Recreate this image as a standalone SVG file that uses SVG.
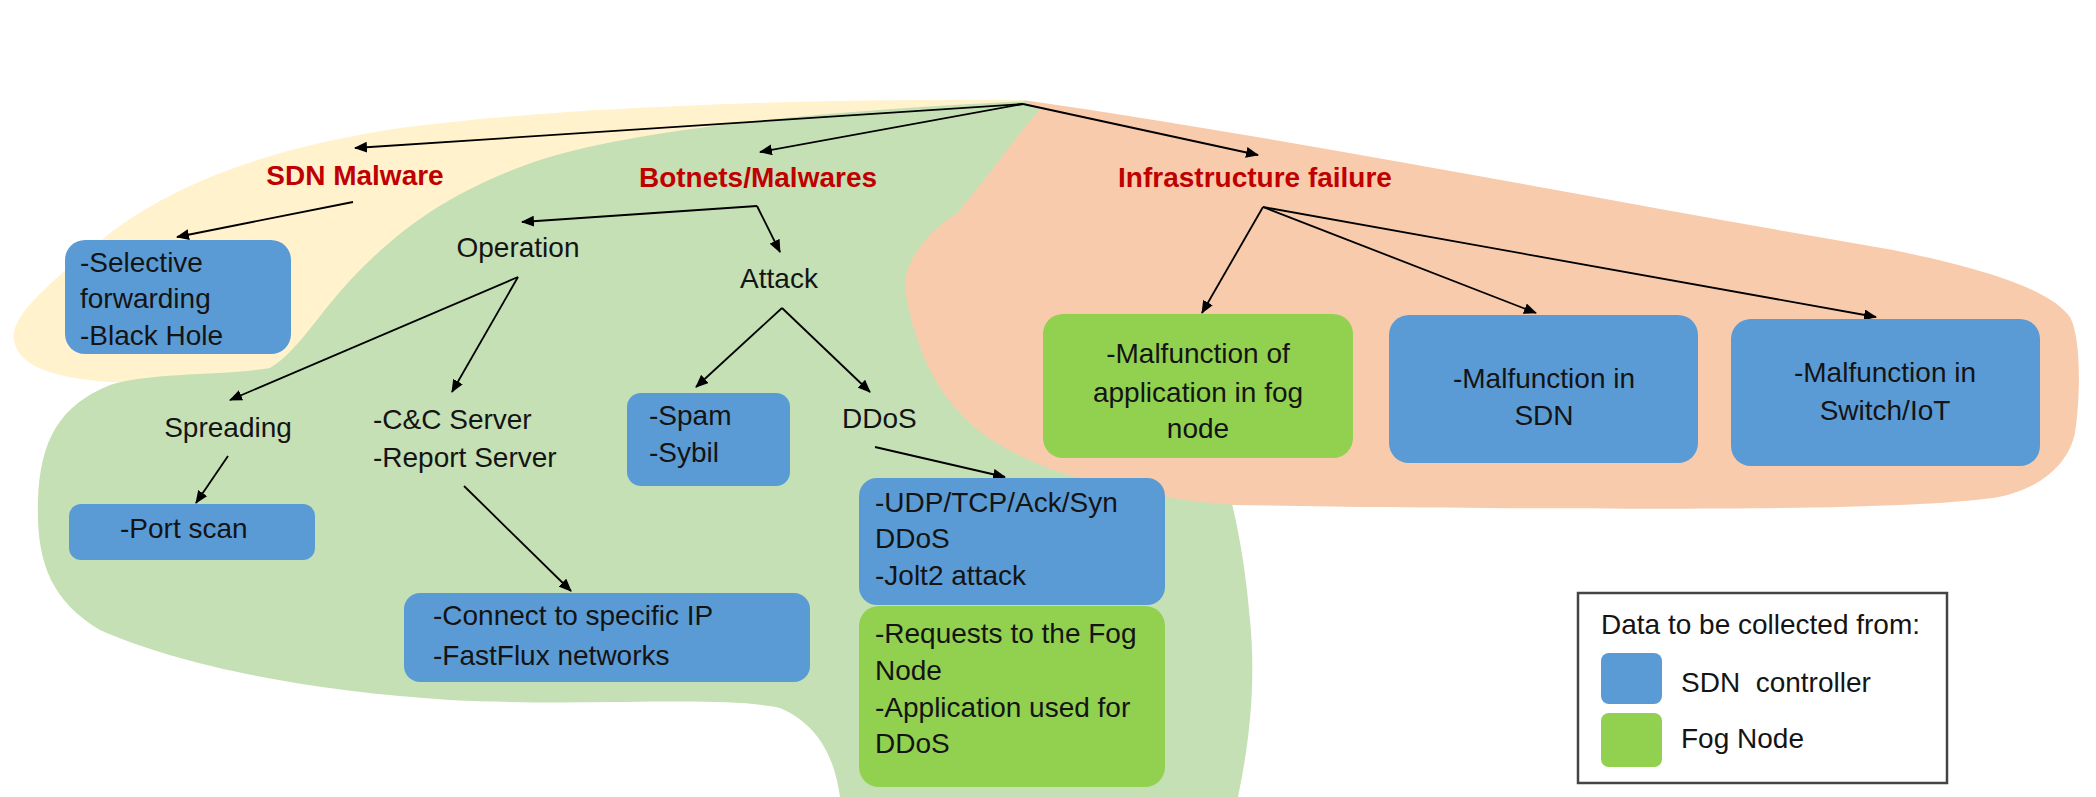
<svg xmlns="http://www.w3.org/2000/svg" width="2096" height="797" viewBox="0 0 2096 797">
<defs>
<style>
.t{font-family:"Liberation Sans",Arial,sans-serif;font-size:28px;fill:#141414;white-space:pre}
.c{text-anchor:middle}
.h{font-family:"Liberation Sans",Arial,sans-serif;font-size:28px;font-weight:bold;fill:#C00000;text-anchor:middle}
.b{fill:#5B9BD5}
.g{fill:#92D050}
.ar{stroke:#000;stroke-width:1.8;fill:none;marker-end:url(#ah)}
</style>
<marker id="ah" markerUnits="userSpaceOnUse" markerWidth="13" markerHeight="11" refX="12" refY="5.5" orient="auto">
<path d="M0,0 L13,5.5 L0,11 Z" fill="#000"/>
</marker>
</defs>
<rect width="2096" height="797" fill="#fff"/>
<g id="regions">
<path id="region-sdn" fill="#FFF2CC" d="M1023,100 C800,98 550,108 400,128 C250,150 150,195 90,250 C40,290 10,320 14,340 C18,365 50,378 110,382 L300,392 L1023,112 Z"/>
<path id="region-botnets" fill="#C5E0B4" d="M1030,101 C850,110 650,125 540,160 C450,190 400,230 360,270 C320,310 300,350 270,368 C220,376 150,372 110,385 C60,405 40,440 38,500 C36,560 50,600 100,630 C180,665 300,690 450,700 C600,707 720,695 780,708 C820,725 835,760 840,797 L1238,797 C1250,740 1256,680 1250,620 C1245,560 1236,520 1230,495 L1100,300 L1040,110 Z"/>
<path id="region-infra" fill="#F8CBAD" d="M1023,100 C1300,140 1600,200 1893,250 C1990,270 2050,290 2070,317 C2082,340 2080,400 2075,433 C2068,465 2040,490 1993,498 C1900,510 1700,510 1360,507 L1233,505 C1140,497 1060,480 1000,445 C940,410 915,350 905,290 C903,260 930,230 957,213 C990,175 1020,130 1040,110 Z"/>
</g>
<g id="connectors">
<line class="ar" x1="1023" y1="104" x2="355" y2="148"/>
<line class="ar" x1="1023" y1="104" x2="760" y2="152"/>
<line class="ar" x1="1023" y1="104" x2="1258" y2="155"/>
<line class="ar" x1="353" y1="202" x2="177" y2="237"/>
<line class="ar" x1="757" y1="206" x2="522" y2="222"/>
<line class="ar" x1="757" y1="206" x2="780" y2="252"/>
<line class="ar" x1="518" y1="277" x2="230" y2="400"/>
<line class="ar" x1="518" y1="277" x2="452" y2="392"/>
<line class="ar" x1="228" y1="456" x2="196" y2="503"/>
<line class="ar" x1="464" y1="486" x2="571" y2="591"/>
<line class="ar" x1="782" y1="308" x2="696" y2="387"/>
<line class="ar" x1="782" y1="308" x2="870" y2="392"/>
<line class="ar" x1="875" y1="447" x2="1005" y2="477"/>
<line class="ar" x1="1263" y1="207" x2="1202" y2="313"/>
<line class="ar" x1="1263" y1="207" x2="1536" y2="313"/>
<line class="ar" x1="1263" y1="207" x2="1876" y2="317"/>
</g>
<g id="sdn-malware"><text class="h" x="355" y="185">SDN Malware</text></g>
<g id="botnets"><text class="h" x="758" y="187">Botnets/Malwares</text></g>
<g id="infra"><text class="h" x="1255" y="187">Infrastructure failure</text></g>
<g id="operation"><text class="t c" x="518" y="257">Operation</text></g>
<g id="attack"><text class="t c" x="779" y="288">Attack</text></g>
<g id="selective">
<rect class="b" x="65" y="240" width="226" height="114" rx="20"/>
<text class="t" x="80" y="272">-Selective</text>
<text class="t" x="80" y="308">forwarding</text>
<text class="t" x="80" y="345">-Black Hole</text>
</g>
<g id="spreading"><text class="t c" x="228" y="437">Spreading</text></g>
<g id="cc-server">
<text class="t" x="373" y="429">-C&amp;C Server</text>
<text class="t" x="373" y="467">-Report Server</text>
</g>
<g id="portscan">
<rect class="b" x="69" y="504" width="246" height="56" rx="12"/>
<text class="t" x="120" y="538">-Port scan</text>
</g>
<g id="spam">
<rect class="b" x="627" y="393" width="163" height="93" rx="14"/>
<text class="t" x="649" y="425">-Spam</text>
<text class="t" x="649" y="462">-Sybil</text>
</g>
<g id="ddos"><text class="t" x="842" y="428">DDoS</text></g>
<g id="connect">
<rect class="b" x="404" y="593" width="406" height="89" rx="16"/>
<text class="t" x="433" y="625">-Connect to specific IP</text>
<text class="t" x="433" y="665">-FastFlux networks</text>
</g>
<g id="udp">
<rect class="b" x="859" y="478" width="306" height="127" rx="18"/>
<text class="t" x="875" y="512">-UDP/TCP/Ack/Syn</text>
<text class="t" x="875" y="548">DDoS</text>
<text class="t" x="875" y="585">-Jolt2 attack</text>
</g>
<g id="requests">
<rect class="g" x="859" y="606" width="306" height="181" rx="20"/>
<text class="t" x="875" y="643">-Requests to the Fog</text>
<text class="t" x="875" y="680">Node</text>
<text class="t" x="875" y="717">-Application used for</text>
<text class="t" x="875" y="753">DDoS</text>
</g>
<g id="fog-malfunction">
<rect class="g" x="1043" y="314" width="310" height="144" rx="20"/>
<text class="t c" x="1198" y="363">-Malfunction of</text>
<text class="t c" x="1198" y="402">application in fog</text>
<text class="t c" x="1198" y="438">node</text>
</g>
<g id="sdn-malfunction">
<rect class="b" x="1389" y="315" width="309" height="148" rx="20"/>
<text class="t c" x="1544" y="388">-Malfunction in</text>
<text class="t c" x="1544" y="425">SDN</text>
</g>
<g id="switch-malfunction">
<rect class="b" x="1731" y="319" width="309" height="147" rx="20"/>
<text class="t c" x="1885" y="382">-Malfunction in</text>
<text class="t c" x="1885" y="420">Switch/IoT</text>
</g>
<g id="legend">
<rect x="1578" y="593" width="369" height="190" fill="#fff" stroke="#444" stroke-width="2.5"/>
<text class="t" x="1601" y="634">Data to be collected from:</text>
<rect class="b" x="1601" y="653" width="61" height="51" rx="8"/>
<text class="t" x="1681" y="692" xml:space="preserve">SDN  controller</text>
<rect class="g" x="1601" y="713" width="61" height="54" rx="8"/>
<text class="t" x="1681" y="748">Fog Node</text>
</g>
</svg>
